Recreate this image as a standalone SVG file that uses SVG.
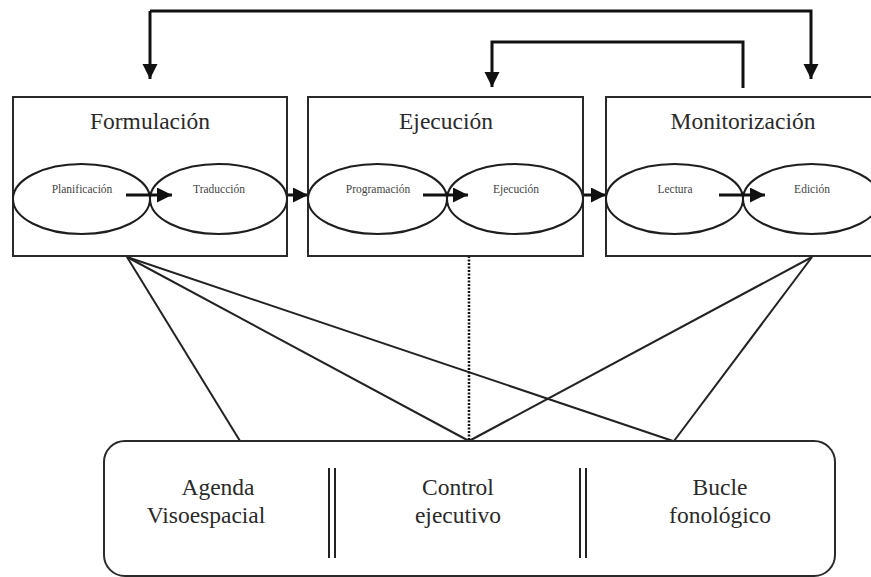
<svg xmlns="http://www.w3.org/2000/svg" width="871" height="577" viewBox="0 0 871 577">
<style>
.box{fill:none;stroke:#2a2a2a;stroke-width:2}
.ell{fill:none;stroke:#1e1e1e;stroke-width:2}
.title{font-family:"Liberation Serif",serif;font-size:23.5px;fill:#2a2a2a;text-anchor:middle}
.small{font-family:"Liberation Serif",serif;font-size:11.5px;fill:#444;text-anchor:middle}
.arr{fill:none;stroke:#111;stroke-width:3;marker-end:url(#ah)}
.ln{fill:none;stroke:#222;stroke-width:2}
.sep{stroke:#222;stroke-width:2}
</style>
<defs>
<marker id="ah" markerUnits="userSpaceOnUse" markerWidth="16" markerHeight="16" refX="15" refY="7.5" orient="auto">
<path d="M0,0 L15,7.5 L0,15 z" fill="#111"/>
</marker>
</defs>
<g id="connectors">
<path class="arr" d="M150,11 V79"/>
<path class="arr" d="M150,11 H811 V79"/>
<path class="arr" d="M743,88 V42 H492 V87"/>
<line class="arr" x1="287" y1="195" x2="308" y2="195"/>
<line class="arr" x1="583" y1="195" x2="606" y2="195"/>
<line class="ln" x1="127" y1="257" x2="240" y2="441"/>
<line class="ln" x1="127" y1="257" x2="469" y2="441"/>
<line class="ln" x1="127" y1="257" x2="673" y2="441"/>
<line class="ln" x1="812" y1="257" x2="469" y2="441"/>
<line class="ln" x1="812" y1="257" x2="674" y2="441"/>
<line x1="469" y1="256" x2="469" y2="441" stroke="#111" stroke-width="2.5" stroke-dasharray="2,1.5"/>
</g>
<g id="formulacion">
<rect class="box" x="13" y="97" width="274" height="159"/>
<text class="title" x="150" y="129">Formulación</text>
<ellipse class="ell" cx="81.5" cy="199" rx="68.5" ry="35"/>
<ellipse class="ell" cx="218.5" cy="199" rx="68.5" ry="35"/>
<text class="small" x="82" y="193">Planificación</text>
<text class="small" x="219" y="193">Traducción</text>
<line class="arr" x1="126" y1="195" x2="172" y2="195"/>
</g>
<g id="ejecucion">
<rect class="box" x="308" y="97" width="275" height="159"/>
<text class="title" x="446" y="129">Ejecución</text>
<ellipse class="ell" cx="377.5" cy="199" rx="69.5" ry="35"/>
<ellipse class="ell" cx="515" cy="199" rx="68" ry="35"/>
<text class="small" x="378" y="193">Programación</text>
<text class="small" x="516" y="193">Ejecución</text>
<line class="arr" x1="423" y1="195" x2="468" y2="195"/>
</g>
<g id="monitorizacion">
<rect class="box" x="606" y="97" width="275" height="159"/>
<text class="title" x="743" y="129">Monitorización</text>
<ellipse class="ell" cx="674.5" cy="199" rx="68.5" ry="35"/>
<ellipse class="ell" cx="811.5" cy="199" rx="68.5" ry="35"/>
<text class="small" x="675" y="193">Lectura</text>
<text class="small" x="812" y="193">Edición</text>
<line class="arr" x1="719" y1="195" x2="765" y2="195"/>
</g>
<g id="memoria">
<rect class="box" x="104" y="441" width="731" height="135" rx="21" ry="21"/>
<line class="sep" x1="329" y1="468" x2="329" y2="558"/>
<line class="sep" x1="335" y1="468" x2="335" y2="558"/>
<line class="sep" x1="580" y1="468" x2="580" y2="558"/>
<line class="sep" x1="586" y1="468" x2="586" y2="558"/>
<text class="title" x="218" y="495">Agenda</text>
<text class="title" x="206" y="523">Visoespacial</text>
<text class="title" x="458" y="495">Control</text>
<text class="title" x="458" y="523">ejecutivo</text>
<text class="title" x="720" y="495">Bucle</text>
<text class="title" x="720" y="523">fonológico</text>
</g>
</svg>
